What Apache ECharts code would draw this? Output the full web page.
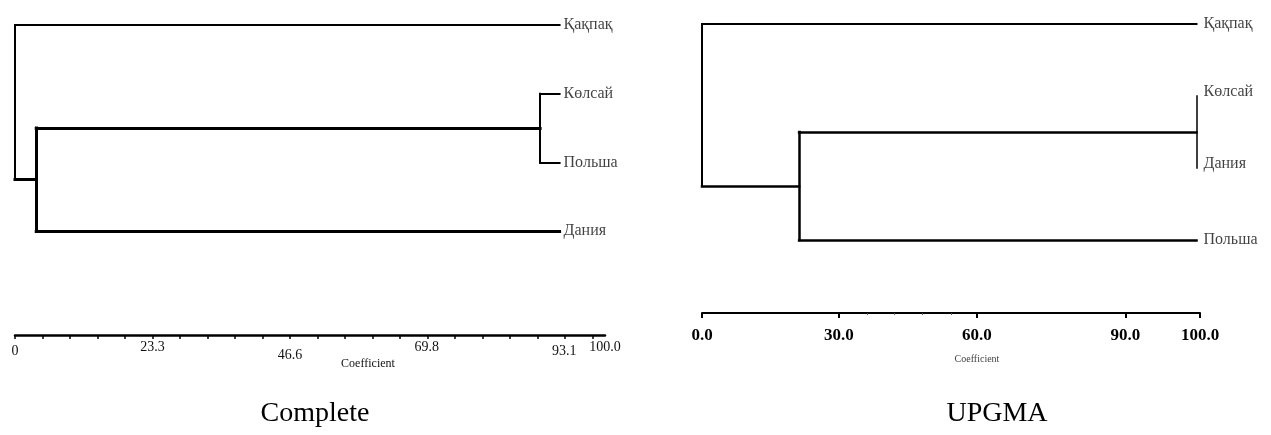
<!DOCTYPE html>
<html>
<head>
<meta charset="utf-8">
<style>
  html, body { margin: 0; padding: 0; background: #fff; }
  #chart { width: 1271px; height: 435px; }
</style>
<script src="https://cdn.jsdelivr.net/npm/echarts@6/dist/echarts.min.js"></script>
</head>
<body>
<div id="chart"></div>
<script>
// ---------- data ----------
// Complete linkage dendrogram (left)
const leftLeaves = ['Қақпақ', 'Көлсай', 'Польша', 'Дания'];
// merges: [childA, childB, coefficient]; ids 0..3 are leaves, 4.. are merge nodes in order
const leftMerges = [[1, 2, 89.0], [4, 3, 3.6], [0, 5, 0.0]];
const leftLeafEnd = 92.3;
const leftTickLabels = ['0', '23.3', '46.6', '69.8', '93.1', '100.0'];
const leftTickValues = [0, 23.3, 46.6, 69.8, 93.1, 100];
const leftMinorStep = 4.66;

// UPGMA dendrogram (right)
const rightLeaves = ['Қақпақ', 'Көлсай', 'Дания', 'Польша'];
const rightMerges = [[1, 2, 99.3], [4, 3, 19.5], [0, 5, 0.0]];
const rightLeafEnd = 99.3;
const rightTickLabels = ['0.0', '30.0', '60.0', '90.0', '100.0'];
// where each printed label sits along the drawn 0–100 axis line
const rightTickSpots = [0, 27.5, 55.2, 85.0, 100];
const rightMinorSpots = [33.1, 38.6, 44.2, 50.0];

const panelTitles = ['Complete', 'UPGMA'];
const axisTitle = 'Coefficient';

// ---------- builders ----------
function buildTree(leaves, merges, leafEnd, widths) {
  const n = leaves.length;
  const pos = leaves.map((_, i) => ({ x: leafEnd, y: i }));
  const nodeW = [];
  const segs = [];
  merges.forEach(([a, b, h], k) => {
    const id = n + k;
    const w = widths[k];
    [a, b].forEach(c => {
      const cw = c >= n ? Math.max(w, nodeW[c]) : w;
      if (Math.abs(pos[c].x - h) > 1e-6) {
        segs.push({ coords: [[pos[c].x, pos[c].y], [h, pos[c].y]], lineStyle: { width: cw } });
      }
    });
    segs.push({ coords: [[h, pos[a].y], [h, pos[b].y]], lineStyle: { width: w } });
    nodeW[id] = w;
    pos[id] = { x: h, y: (pos[a].y + pos[b].y) / 2 };
  });
  const onNode = leaves.map(() => false);
  merges.forEach(([a, b, h]) => {
    [a, b].forEach(c => { if (c < n && Math.abs(h - leafEnd) < 1e-6) onNode[c] = true; });
  });
  return { segs, onNode };
}

const serif = '"Liberation Serif", "DejaVu Serif", serif';
const ink = '#000';

const leftTree = buildTree(leftLeaves, leftMerges, leftLeafEnd, [2, 3, 2]);
const rightTree = buildTree(rightLeaves, rightMerges, rightLeafEnd, [1.5, 2.5, 2]);

const leftMinor = [];
for (let v = 0; v < 100; v += leftMinorStep) leftMinor.push(+v.toFixed(2));

const leftRows = ['mid', 'up', 'low', 'up', 'mid', 'up'];

function leafLabels(leaves, leafEnd, onNode, dist) {
  return leaves.map((name, i) => ({
    value: [leafEnd, i],
    name: name,
    label: { offset: onNode[i] ? [0, -4] : [0, 0], distance: dist }
  }));
}

const option = {
  animation: false,
  backgroundColor: '#fff',
  grid: [
    { left: 15, width: 590, top: 25, height: 206 },
    { left: 702, width: 498, top: 24, height: 216 }
  ],
  xAxis: [
    {
      gridIndex: 0, type: 'value', min: 0, max: 100, position: 'bottom', offset: 104,
      axisLine: { onZero: false, lineStyle: { color: ink, width: 2.5 } },
      axisTick: { customValues: leftMinor, length: 4, lineStyle: { color: ink, width: 1.5 } },
      axisLabel: {
        customValues: leftTickValues,
        margin: 3,
        color: '#111',
        fontFamily: serif,
        fontSize: 14,
        formatter: (v) => {
          const i = leftTickValues.findIndex(t => Math.abs(t - v) < 1e-6);
          return '{' + leftRows[i] + '|' + leftTickLabels[i] + '}';
        },
        rich: {
          up: { lineHeight: 18, fontSize: 14, fontFamily: serif, color: '#111' },
          mid: { lineHeight: 26, fontSize: 14, fontFamily: serif, color: '#111' },
          low: { lineHeight: 34, fontSize: 14, fontFamily: serif, color: '#111' }
        }
      },
      splitLine: { show: false }
    },
    {
      gridIndex: 1, type: 'value', min: 0, max: 100, position: 'bottom', offset: 73,
      axisLine: { onZero: false, lineStyle: { color: ink, width: 2 } },
      axisTick: { customValues: rightTickSpots, length: 5, lineStyle: { color: ink, width: 2 } },
      axisLabel: {
        customValues: rightTickSpots,
        margin: 14,
        color: ink,
        fontFamily: serif,
        fontWeight: 'bold',
        fontSize: 17,
        formatter: (v) => {
          const i = rightTickSpots.findIndex(t => Math.abs(t - v) < 1e-6);
          return rightTickLabels[i];
        }
      },
      splitLine: { show: false }
    },
    {
      gridIndex: 1, type: 'value', min: 0, max: 100, position: 'bottom', offset: 73,
      axisLine: { show: false, onZero: false },
      axisTick: { customValues: rightMinorSpots, length: 2, lineStyle: { color: '#555', width: 1 } },
      axisLabel: { show: false },
      splitLine: { show: false }
    }
  ],
  yAxis: [
    { gridIndex: 0, type: 'value', min: 0, max: 3, inverse: true, show: false },
    { gridIndex: 1, type: 'value', min: 0, max: 3, inverse: true, show: false }
  ],
  series: [
    {
      type: 'lines', coordinateSystem: 'cartesian2d', xAxisIndex: 0, yAxisIndex: 0,
      polyline: false, silent: true, clip: false,
      lineStyle: { color: ink, opacity: 1, cap: 'square' },
      data: leftTree.segs
    },
    {
      type: 'lines', coordinateSystem: 'cartesian2d', xAxisIndex: 1, yAxisIndex: 1,
      polyline: false, silent: true, clip: false,
      lineStyle: { color: ink, opacity: 1, cap: 'square' },
      data: rightTree.segs
    },
    {
      type: 'scatter', xAxisIndex: 0, yAxisIndex: 0, symbolSize: 0, silent: true, clip: false,
      label: { show: true, position: 'right', formatter: '{b}', color: '#111', fontFamily: serif, fontSize: 16 },
      data: leafLabels(leftLeaves, leftLeafEnd, leftTree.onNode, 4)
    },
    {
      type: 'scatter', xAxisIndex: 1, yAxisIndex: 1, symbolSize: 0, silent: true, clip: false,
      label: { show: true, position: 'right', formatter: '{b}', color: '#111', fontFamily: serif, fontSize: 16 },
      data: leafLabels(rightLeaves, rightLeafEnd, rightTree.onNode, 7)
    }
  ],
  graphic: [
    { type: 'text', x: 368, y: 364, style: { text: axisTitle, fill: '#111', font: '12px ' + serif, textAlign: 'center', textVerticalAlign: 'middle', align: 'center', verticalAlign: 'middle' } },
    { type: 'text', x: 977, y: 359, style: { text: axisTitle, fill: '#444', font: '10px ' + serif, textAlign: 'center', textVerticalAlign: 'middle', align: 'center', verticalAlign: 'middle' } },
    { type: 'text', x: 315, y: 414, style: { text: panelTitles[0], fill: '#000', font: '28px ' + serif, textAlign: 'center', textVerticalAlign: 'middle', align: 'center', verticalAlign: 'middle' } },
    { type: 'text', x: 997, y: 414, style: { text: panelTitles[1], fill: '#000', font: '28px ' + serif, textAlign: 'center', textVerticalAlign: 'middle', align: 'center', verticalAlign: 'middle' } }
  ]
};

const chart = echarts.init(document.getElementById('chart'), null, { renderer: 'canvas' });
chart.setOption(option);
</script>
</body>
</html>
